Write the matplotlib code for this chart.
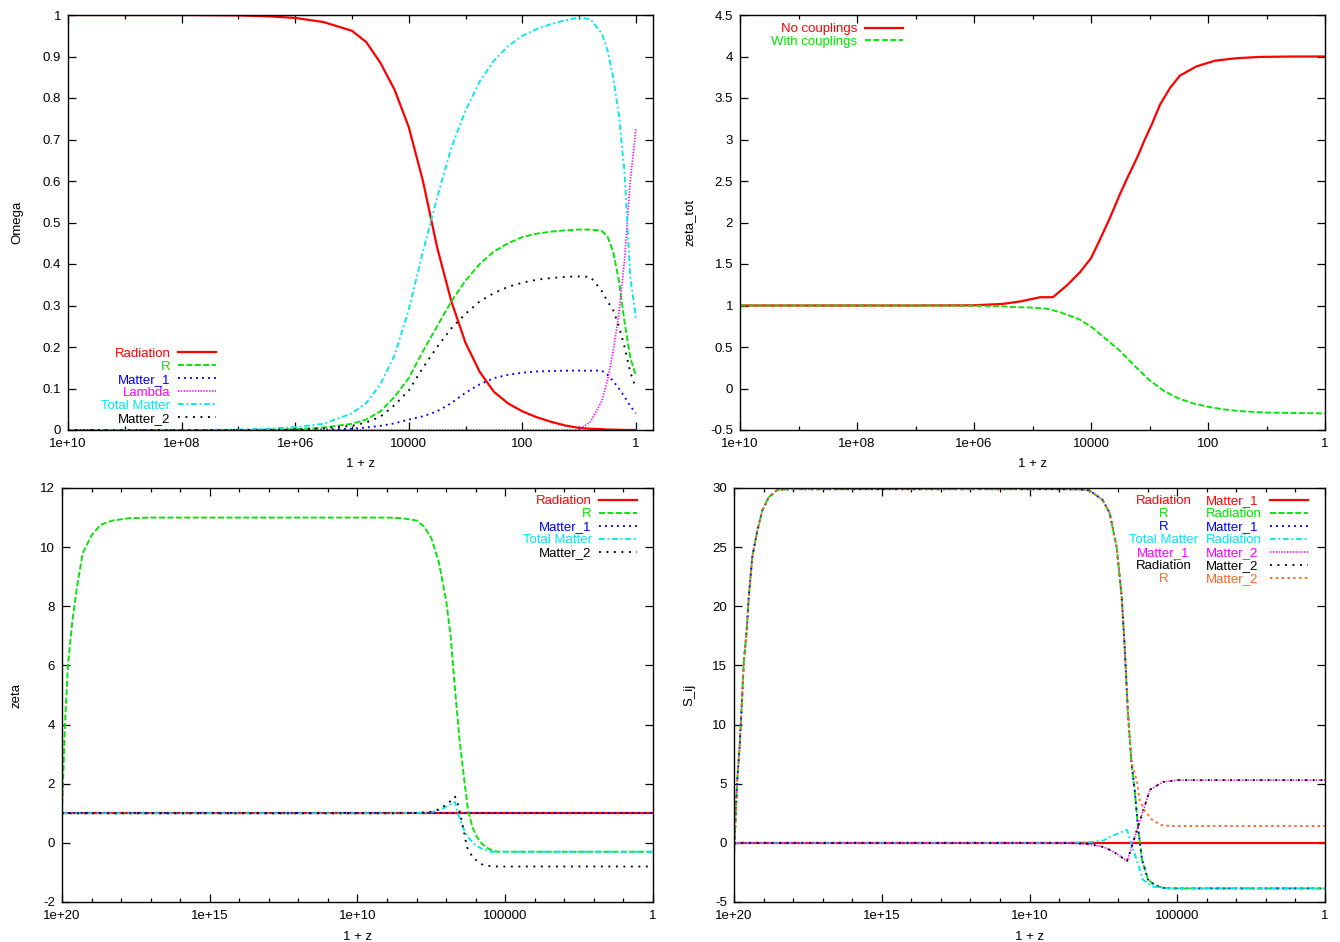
import numpy as np
import matplotlib
matplotlib.use('Agg')
import matplotlib.pyplot as plt
from matplotlib.ticker import FixedLocator, FuncFormatter, NullFormatter

plt.rcParams['font.family'] = ['Liberation Sans', 'DejaVu Sans']
FS = 9.5

RED = '#ff0000'
GREEN = '#00e600'
BLUE = '#0000ff'
MAGENTA = '#ff00ff'
CYAN = '#00e8f0'
BLACK = '#000000'
ORANGE = '#ff6424'

# ---------------- Panel 1: Omega vs 1+z (log10 of 1+z) ----------------
omega_logz = [10, 9, 8, 7, 6.5, 6, 5.5, 5, 4.75, 4.5, 4.25, 4, 3.75, 3.5, 3.25, 3,
              2.75, 2.5, 2.25, 2, 1.75, 1.5, 1.25, 1, 0.8, 0.6, 0.5, 0.4, 0.3, 0.2, 0.1, 0]
omega_radiation = [1.0, 1.0, 1.0, 0.999, 0.997, 0.993, 0.983, 0.962, 0.935, 0.885, 0.82, 0.73,
                   0.6, 0.44, 0.31, 0.21, 0.14, 0.092, 0.064, 0.045, 0.031, 0.02, 0.011, 0.005,
                   0.003, 0.002, 0.001, 0.0008, 0.0005, 0.0003, 0.0002, 0.0001]
omega_R = [0, 0, 0, 0, 0.0005, 0.002, 0.006, 0.015, 0.025, 0.045, 0.08, 0.125, 0.19, 0.25,
           0.31, 0.36, 0.4, 0.43, 0.45, 0.465, 0.473, 0.478, 0.481, 0.483, 0.483, 0.48,
           0.466, 0.43, 0.36, 0.26, 0.175, 0.13]
omega_matter1 = [0, 0, 0, 0, 0, 0, 0.001, 0.003, 0.006, 0.01, 0.016, 0.025, 0.033, 0.045,
                 0.065, 0.09, 0.11, 0.125, 0.133, 0.138, 0.141, 0.142, 0.143, 0.143, 0.143,
                 0.143, 0.133, 0.118, 0.1, 0.08, 0.058, 0.04]
omega_lambda = [0, 0, 0, 0, 0, 0, 0, 0, 0, 0, 0, 0, 0, 0, 0, 0, 0, 0, 0, 0, 0, 0, 0, 0,
                0.02, 0.07, 0.12, 0.19, 0.28, 0.41, 0.6, 0.725]
omega_total_matter = [0, 0, 0, 0.001, 0.003, 0.007, 0.015, 0.04, 0.065, 0.11, 0.18, 0.29,
                      0.43, 0.56, 0.68, 0.77, 0.84, 0.89, 0.925, 0.95, 0.966, 0.978, 0.987,
                      0.994, 0.99, 0.955, 0.915, 0.85, 0.76, 0.62, 0.37, 0.27]
omega_matter2 = [0, 0, 0, 0, 0.0003, 0.0015, 0.004, 0.01, 0.018, 0.032, 0.06, 0.095, 0.15,
                 0.2, 0.245, 0.28, 0.31, 0.33, 0.345, 0.355, 0.362, 0.366, 0.369, 0.37,
                 0.369, 0.335, 0.31, 0.289, 0.25, 0.2, 0.14, 0.1]

# ---------------- Panel 2: zeta_tot ----------------
ztot_nc_logz = [10, 8, 7, 6, 5.5, 5.2, 5, 4.87, 4.65, 4.4, 4.19, 4.0, 3.85, 3.68, 3.5, 3.37,
                3.2, 3.08, 2.95, 2.82, 2.65, 2.48, 2.2, 1.88, 1.5, 1.11, 0.5, 0]
ztot_no_couplings = [1, 1, 1, 1.002, 1.02, 1.05, 1.08, 1.1, 1.1, 1.25, 1.4, 1.57, 1.79, 2.05,
                     2.35, 2.55, 2.8, 3.0, 3.2, 3.42, 3.62, 3.77, 3.88, 3.95, 3.98, 3.995, 4.0, 4.0]
ztot_wc_logz = [10, 7, 6, 5.5, 5.33, 5, 4.75, 4.53, 4.19, 3.97, 3.75, 3.5, 3.25, 3, 2.75,
                2.5, 2.25, 2, 1.75, 1.5, 1.25, 1, 0.5, 0]
ztot_with_couplings = [1, 1, 0.998, 0.99, 0.98, 0.975, 0.96, 0.92, 0.83, 0.73, 0.6, 0.45,
                       0.27, 0.1, -0.03, -0.12, -0.18, -0.22, -0.25, -0.27, -0.28, -0.29,
                       -0.295, -0.3]

# ---------------- Panel 3: zeta ----------------
zeta_flat_logz = [20, 0]
zeta_radiation = [1, 1]
zeta_matter1 = [1, 1]
zeta_R_logz = [20, 19.9, 19.8, 19.65, 19.5, 19.3, 19.0, 18.7, 18.3, 17.7, 17, 12, 9, 8.5, 8,
               7.75, 7.5, 7.25, 7, 6.85, 6.7, 6.55, 6.42, 6.26, 6.1, 5.96, 5.8, 5.62, 5.45,
               5.28, 5, 0]
zeta_R = [1.0, 4.0, 6.0, 7.5, 8.6, 9.8, 10.4, 10.75, 10.9, 10.98, 11.0, 11.0, 11.0, 10.98,
          10.9, 10.7, 10.3, 9.5, 8.2, 7.0, 5.2, 3.5, 2.4, 1.1, 0.5, 0.2, -0.02, -0.17, -0.25,
          -0.3, -0.3, -0.3]
zeta_tm_logz = [20, 9, 8, 7.5, 7.2, 7, 6.8, 6.7, 6.6, 6.5, 6.35, 6.1, 5.85, 5.5, 0]
zeta_total_matter = [1, 1, 1.01, 1.04, 1.12, 1.22, 1.33, 1.38, 1.0, 0.7, 0.33, 0.0, -0.17,
                     -0.3, -0.3]
zeta_m2_logz = [20, 9, 8, 7.5, 7.2, 7, 6.8, 6.7, 6.6, 6.53, 6.4, 6.3, 6.09, 5.75, 5.41, 5, 0]
zeta_matter2 = [1, 1, 1.01, 1.05, 1.15, 1.3, 1.45, 1.56, 1.3, 1.0, 0.4, -0.14, -0.51, -0.75,
                -0.8, -0.8, -0.8]

# ---------------- Panel 4: S_ij ----------------
S_flat_logz = [20, 0]
S_rad_m1 = [0, 0]
S_R_logz = [20, 19.94, 19.89, 19.81, 19.75, 19.67, 19.57, 19.5, 19.38, 19.21, 19.04, 18.83,
            18.53, 18, 9, 8.3, 7.97, 7.53, 7.29, 7.05, 6.88, 6.78, 6.67, 6.55, 6.43, 6.33,
            6.19, 5.99, 5.75, 5.48, 5.2, 0]
S_R_rad = [-1.2, 2.5, 5.3, 8.1, 11, 15.2, 18, 20.8, 24.2, 26.4, 28.1, 29.2, 29.85, 29.9,
           29.9, 29.88, 29.8, 29.0, 27.9, 25.0, 20.8, 16.6, 11.0, 6.8, 4.2, 1.35, -1.45, -3.1,
           -3.6, -3.8, -3.85, -3.85]
S_R_m1 = [-1.2, 2.5, 5.3, 8.1, 11, 15.2, 18, 20.8, 24.2, 26.4, 28.1, 29.2, 29.85, 29.9,
          29.9, 29.88, 29.8, 29.0, 27.9, 25.0, 20.8, 16.6, 11.0, 6.8, 4.2, 1.35, -1.45, -3.1,
          -3.6, -3.8, -3.85, -3.85]
S_tm_logz = [20, 9, 8, 7.5, 7.28, 7, 6.7, 6.6, 6.5, 6.37, 6.17, 5.83, 5.25, 0]
S_tm_rad = [0, 0, 0.05, 0.2, 0.5, 0.8, 1.1, 0.25, -0.5, -1.45, -3.1, -3.7, -3.85, -3.85]
S_m2_logz = [20, 9, 8.5, 8, 7.5, 7.28, 7, 6.7, 6.6, 6.5, 6.26, 5.92, 5.48, 5.01, 0]
S_m1_m2 = [0, 0, -0.03, -0.1, -0.35, -0.6, -1.0, -1.55, -0.8, 0.0, 1.9, 4.5, 5.15, 5.3, 5.3]
S_rad_m2 = [0, 0, -0.03, -0.1, -0.35, -0.6, -1.0, -1.55, -0.8, 0.0, 1.9, 4.5, 5.15, 5.3, 5.3]
S_Rm2_logz = [20, 19.94, 19.89, 19.81, 19.75, 19.67, 19.57, 19.5, 19.38, 19.21, 19.04, 18.83,
              18.53, 18, 9, 8.3, 7.97, 7.53, 7.29, 7.05, 6.88, 6.78, 6.67, 6.55, 6.37, 6.27,
              6.1, 5.83, 5.53, 5.2, 0]
S_R_m2 = [-1.2, 2.5, 5.3, 8.1, 11, 15.2, 18, 20.8, 24.2, 26.4, 28.1, 29.2, 29.85, 29.9, 29.9,
          29.88, 29.8, 29.0, 27.9, 25.0, 20.8, 16.6, 11.0, 6.8, 5.3, 3.6, 2.7, 1.9, 1.5, 1.42,
          1.42]

# line styles
LS_SOLID = '-'
LS_DASH = (0, (3.2, 1.3))
LS_DOT = (0, (1, 2.2))
LS_FINE = (0, (0.8, 0.9))
LS_DASHDOT = (0, (3, 1.5, 1, 1.5))
LS_DOT_WIDE = (0, (1, 3))
LS_ORANGE = (0, (1.3, 1.8))
LW = 1.35


def zx(logz):
    return np.power(10.0, np.asarray(logz, dtype=float))


def fmt_g(v, pos):
    return '%g' % v


def setup(ax, xlim, majors, minors, ylim, yticks, ylabel, ylab_x, xlab_y):
    ax.set_xscale('log')
    ax.set_xlim(*xlim)
    ax.set_ylim(*ylim)
    ax.xaxis.set_major_locator(FixedLocator([10.0 ** e for e in majors]))
    ax.xaxis.set_minor_locator(FixedLocator([10.0 ** e for e in minors]))
    ax.xaxis.set_major_formatter(FuncFormatter(fmt_g))
    ax.xaxis.set_minor_formatter(NullFormatter())
    ax.yaxis.set_major_locator(FixedLocator(yticks))
    ax.yaxis.set_major_formatter(FuncFormatter(fmt_g))
    ax.tick_params(which='both', direction='in', top=True, right=True, labelsize=FS,
                   width=0.9, colors='black')
    ax.tick_params(which='major', length=6, pad=5.5)
    ax.tick_params(which='minor', length=3)
    ax.tick_params(axis='y', which='major', pad=5)
    for s in ax.spines.values():
        s.set_linewidth(1.0)
    ax.set_xlabel('1 + z', fontsize=FS)
    ax.set_ylabel(ylabel, fontsize=FS)
    ax.yaxis.set_label_coords(ylab_x, 0.5)
    ax.xaxis.set_label_coords(0.5, xlab_y)


fig = plt.figure(figsize=(13.4, 9.42), dpi=100)
W, H = 1340.0, 942.0


def add_axes(l, t, r, b):
    return fig.add_axes([l / W, 1 - b / H, (r - l) / W, (b - t) / H])


ax1 = add_axes(68, 15, 653, 430)
ax2 = add_axes(740, 15, 1325, 430)
ax3 = add_axes(62, 488, 653, 902)
ax4 = add_axes(734, 488, 1325, 902)

LEG = dict(markerfirst=False, frameon=False, fontsize=FS, handlelength=2.9,
           handletextpad=0.55, labelspacing=0.057, borderpad=0, borderaxespad=0,
           loc='upper right')

# Panel 1
x1 = zx(omega_logz)
l_rad, = ax1.plot(x1, omega_radiation, color=RED, ls=LS_SOLID, lw=1.6)
l_R, = ax1.plot(x1, omega_R, color=GREEN, ls=LS_DASH, lw=LW)
l_m1, = ax1.plot(x1, omega_matter1, color=BLUE, ls=LS_DOT, lw=LW)
l_lam, = ax1.plot(x1, omega_lambda, color=MAGENTA, ls=LS_FINE, lw=1.2)
l_tm, = ax1.plot(x1, omega_total_matter, color=CYAN, ls=LS_DASHDOT, lw=LW)
l_m2, = ax1.plot(x1, omega_matter2, color=BLACK, ls=LS_DOT_WIDE, lw=LW)
setup(ax1, (1e10, 0.5), [10, 8, 6, 4, 2, 0], [9, 7, 5, 3, 1], (0, 1),
      [0, 0.1, 0.2, 0.3, 0.4, 0.5, 0.6, 0.7, 0.8, 0.9, 1], 'Omega', -0.077, -0.068)
leg1 = ax1.legend([l_rad, l_R, l_m1, l_lam, l_tm, l_m2],
                  ['Radiation', 'R', 'Matter_1', 'Lambda', 'Total Matter', 'Matter_2'],
                  bbox_to_anchor=(0.253, 0.199), labelcolor='linecolor', **LEG)

# Panel 2
l_nc, = ax2.plot(zx(ztot_nc_logz), ztot_no_couplings, color=RED, ls=LS_SOLID, lw=1.6)
l_wc, = ax2.plot(zx(ztot_wc_logz), ztot_with_couplings, color=GREEN, ls=LS_DASH, lw=LW)
setup(ax2, (1e10, 1), [10, 8, 6, 4, 2, 0], [9, 7, 5, 3, 1], (-0.5, 4.5),
      [-0.5, 0, 0.5, 1, 1.5, 2, 2.5, 3, 3.5, 4, 4.5], 'zeta_tot', -0.074, -0.068)
ax2.legend([l_nc, l_wc], ['No couplings', 'With couplings'],
           bbox_to_anchor=(0.2786, 0.981), labelcolor='linecolor', **LEG)

# Panel 3
l3_rad, = ax3.plot(zx(zeta_flat_logz), zeta_radiation, color=RED, ls=LS_SOLID, lw=1.6)
l3_R, = ax3.plot(zx(zeta_R_logz), zeta_R, color=GREEN, ls=LS_DASH, lw=LW)
l3_m1, = ax3.plot(zx(zeta_flat_logz), zeta_matter1, color=BLUE, ls=LS_DOT, lw=LW)
l3_tm, = ax3.plot(zx(zeta_tm_logz), zeta_total_matter, color=CYAN, ls=LS_DASHDOT, lw=LW)
l3_m2, = ax3.plot(zx(zeta_m2_logz), zeta_matter2, color=BLACK, ls=LS_DOT_WIDE, lw=LW)
setup(ax3, (1e20, 1), [20, 15, 10, 5, 0],
      [e for e in range(1, 20) if e % 5 != 0], (-2, 12),
      [-2, 0, 2, 4, 6, 8, 10, 12], 'zeta', -0.067, -0.07)
ax3.legend([l3_rad, l3_R, l3_m1, l3_tm, l3_m2],
           ['Radiation', 'R', 'Matter_1', 'Total Matter', 'Matter_2'],
           bbox_to_anchor=(0.973, 0.983), labelcolor='linecolor', **LEG)

# Panel 4
l4 = []
l4.append(ax4.plot(zx(S_flat_logz), S_rad_m1, color=RED, ls=LS_SOLID, lw=1.6)[0])
l4.append(ax4.plot(zx(S_R_logz), S_R_rad, color=GREEN, ls=LS_DASH, lw=LW)[0])
l4.append(ax4.plot(zx(S_R_logz), S_R_m1, color=BLUE, ls=LS_DOT, lw=LW)[0])
l4.append(ax4.plot(zx(S_tm_logz), S_tm_rad, color=CYAN, ls=LS_DASHDOT, lw=LW)[0])
l4.append(ax4.plot(zx(S_m2_logz), S_m1_m2, color=MAGENTA, ls=LS_FINE, lw=1.2)[0])
l4.append(ax4.plot(zx(S_m2_logz), S_rad_m2, color=BLACK, ls=LS_DOT_WIDE, lw=LW)[0])
l4.append(ax4.plot(zx(S_Rm2_logz), S_R_m2, color=ORANGE, ls=LS_ORANGE, lw=LW)[0])
setup(ax4, (1e20, 1), [20, 15, 10, 5, 0],
      [e for e in range(1, 20) if e % 5 != 0], (-5, 30),
      [-5, 0, 5, 10, 15, 20, 25, 30], 'S_ij', -0.066, -0.07)

pair_first = ['Radiation', 'R', 'R', 'Total Matter', 'Matter_1', 'Radiation', 'R']
pair_second = ['Matter_1', 'Radiation', 'Matter_1', 'Radiation', 'Matter_2', 'Matter_2',
               'Matter_2']
leg4 = ax4.legend(l4, [''] * len(l4), bbox_to_anchor=(0.971, 0.983), **LEG)
for txt, line, a, b in zip(leg4.get_texts(), l4, pair_first, pair_second):
    c = line.get_color()
    ax4.annotate(b, xy=(0, 0.5), xycoords=txt, xytext=(-56, 3), textcoords='offset pixels',
                 ha='left', va='center', color=c, fontsize=FS, zorder=10)
    ax4.annotate(a, xy=(0, 0.5), xycoords=txt, xytext=(-99, 3), textcoords='offset pixels',
                 ha='center', va='center', color=c, fontsize=FS, zorder=10)

fig.savefig('out.png', dpi=100)
